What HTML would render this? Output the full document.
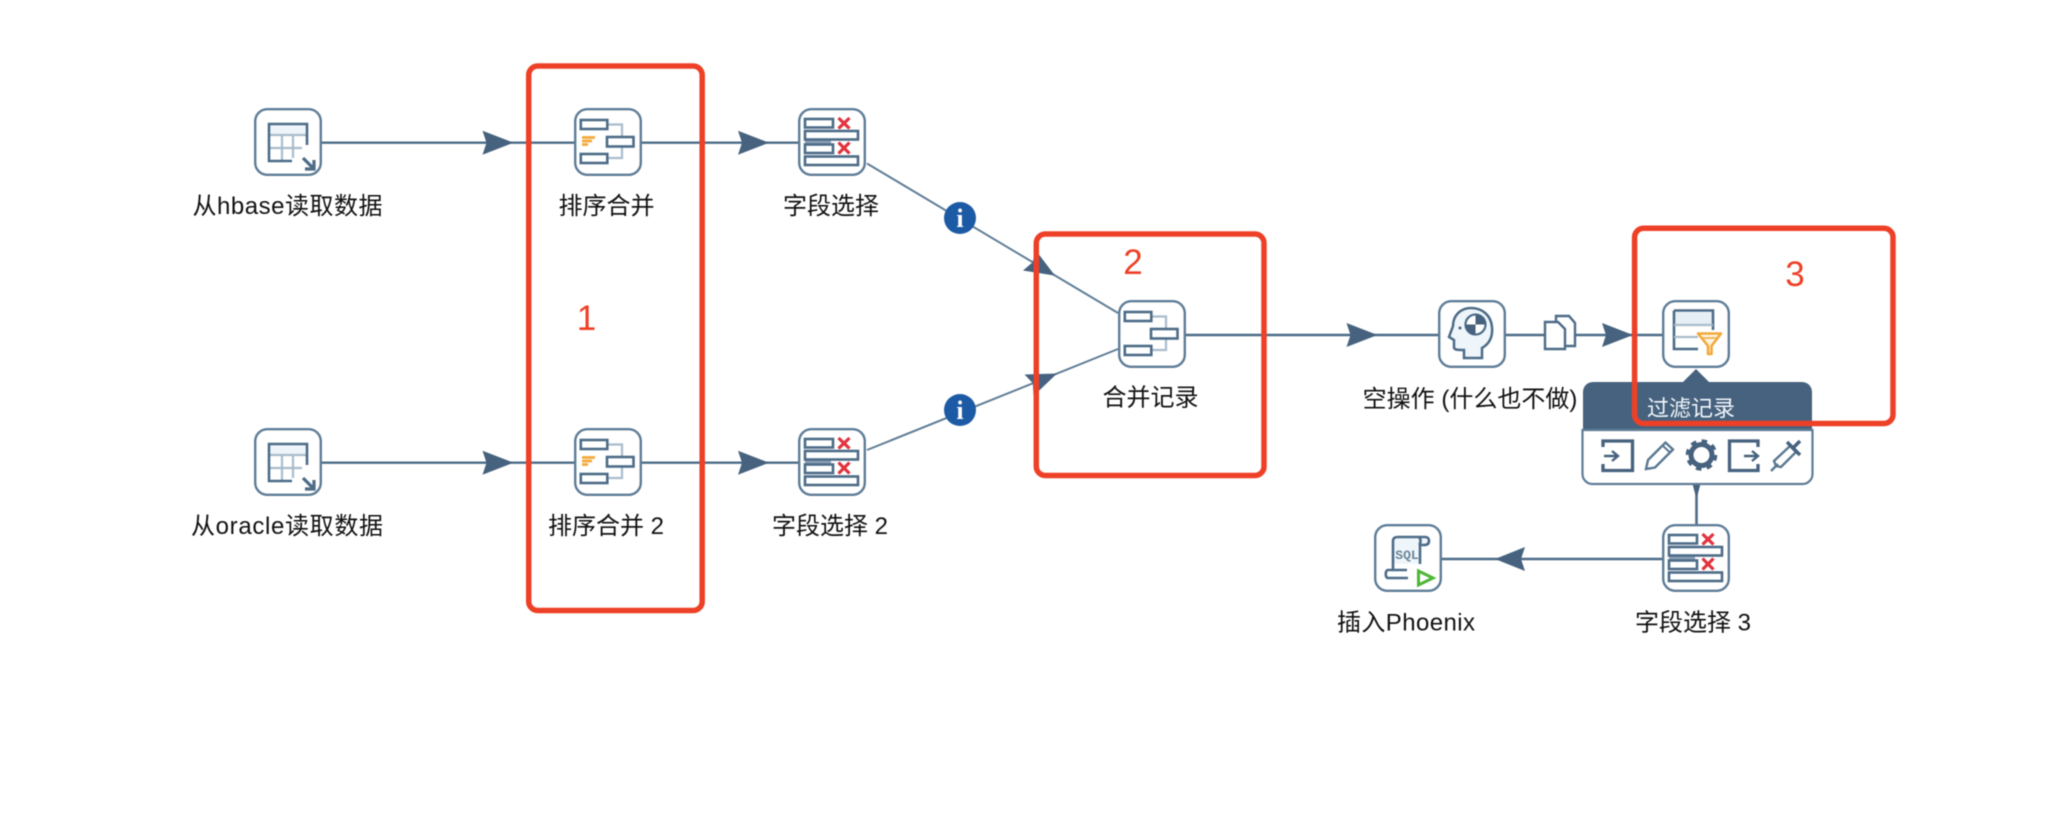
<!DOCTYPE html>
<html>
<head>
<meta charset="utf-8">
<style>
html,body{margin:0;padding:0;background:#fff;width:2056px;height:816px;overflow:hidden}
svg{display:block;filter:blur(.5px)}
.l{font-family:"Liberation Sans","Noto Sans CJK SC",sans-serif;font-size:24px;fill:#111;text-anchor:middle}
.n{font-family:"Liberation Sans",sans-serif;font-size:35px;fill:#ee4027;text-anchor:middle}
.c{stroke:#4d6c88;stroke-width:2.4;fill:none}
.g{stroke:#5f7d97;stroke-width:2;fill:none}
.a{fill:#46627e}
.r{fill:none;stroke:#ee4027;stroke-width:5.5}
.d{fill:none;stroke:#4d6c88;stroke-width:2.6}
.w{fill:#fff;stroke:#4d6c88;stroke-width:2.6}
.t{fill:none;stroke:#a9bccb;stroke-width:2.2}
.x{stroke:#e2333f;stroke-width:3.2;fill:none}
</style>
</head>
<body>
<svg width="2056" height="816" viewBox="0 0 2056 816" xmlns="http://www.w3.org/2000/svg">
<defs>
<rect id="box" x="1.2" y="1.2" width="65.6" height="65.6" rx="12" fill="#fff" stroke="#5f7d97" stroke-width="2.4"/>
<g id="table">
<use href="#box"/>
<rect x="15" y="16" width="38" height="10" fill="#edf5fa"/>
<path class="t" d="M15 27H53M15 40H48M28 27V52M39 27V50"/>
<path class="d" d="M53 37V16H15V53H38"/>
<path class="d" d="M49 50L60 61M60 52V61H51" style="stroke-width:3.2"/>
</g>
<g id="merge">
<use href="#box"/>
<path class="t" d="M33 16.5H48V50H33M46 33.5H48"/>
<rect class="w" x="6.8" y="12" width="26.5" height="9"/>
<rect class="w" x="33" y="29" width="26.5" height="9.5"/>
<rect class="w" x="6.8" y="46" width="26.5" height="9"/>
</g>
<g id="sort">
<use href="#merge"/>
<path stroke="#f3aa3c" stroke-width="2.8" fill="none" d="M8 29.5H21M8 33H18M8 36.5H14"/>
</g>
<g id="field">
<use href="#box"/>
<rect x="7" y="31" width="26" height="6" fill="#8ba1b4"/>
<rect class="w" x="7" y="11" width="28" height="8.5"/>
<rect class="w" x="7" y="23" width="53" height="8.5"/>
<rect class="w" x="7" y="36.500" width="28" height="8.500"/>
<rect class="w" x="7" y="48.500" width="53" height="8.500"/>
<path class="x" d="M40.500 10L51.500 20.500M51.500 10L40.500 20.500M40.500 34.500L51.500 45.500M51.500 34.500L40.500 45.500"/>
</g>
<path id="arrow" class="a" d="M0 -12L31 0L0 12L4 0Z"/>
</defs>

<rect width="2056" height="816" fill="#fff"/>

<!-- connectors -->
<path class="c" d="M322 142.700H574M641 142.700H798"/>
<path class="c" d="M322 462.700H574M641 462.700H798"/>
<path class="g" d="M867 163.500L1118 313"/>
<path class="g" d="M867 450L1118 349"/>
<path class="c" d="M1186 335H1438M1506 335H1662"/>
<path class="c" d="M1662 559H1441"/>
<path class="c" d="M1696.500 484V524" style="stroke-width:2.600"/>
<path class="a" d="M1692.500 484H1700.500L1697.300 496H1695.700Z"/>

<!-- arrowheads -->
<use href="#arrow" x="482.500" y="142.700"/>
<use href="#arrow" x="482.500" y="462.700"/>
<use href="#arrow" x="738" y="142.700"/>
<use href="#arrow" x="738" y="462.700"/>
<use href="#arrow" x="1346.500" y="335"/>
<use href="#arrow" x="1602" y="335"/>
<path class="a" d="M1525 547L1495 559L1525 571L1521 559Z"/>
<path class="a" d="M1055 275.600L1023 270.500L1032.700 262.200L1035.500 250Z"/>
<path class="a" d="M1057 373.500L1033.500 396L1032.900 383.200L1024.500 374.500Z"/>

<!-- info badges -->
<circle cx="960" cy="218" r="16" fill="#1c5aa5"/>
<text x="960" y="227" font-family="Liberation Serif,serif" font-weight="bold" font-size="26" fill="#fff" text-anchor="middle">i</text>
<circle cx="960" cy="410" r="16" fill="#1c5aa5"/>
<text x="960" y="419" font-family="Liberation Serif,serif" font-weight="bold" font-size="26" fill="#fff" text-anchor="middle">i</text>

<!-- nodes -->
<use href="#table" x="254" y="108"/>
<use href="#table" x="254" y="428"/>
<use href="#sort" x="574" y="108"/>
<use href="#sort" x="574" y="428"/>
<use href="#field" x="798" y="108"/>
<use href="#field" x="798" y="428"/>
<use href="#merge" x="1118" y="300"/>
<use href="#field" x="1662" y="524"/>

<!-- no-op (brain) -->
<g transform="translate(1438,300)">
<use href="#box"/>
<path d="M44 58V48C51 44 55 37 54 27C53 15 44 8 33 8C22 8 15 16 15 26L11 37L16 40V47C16 50 19 50 26 50V58Z" fill="#eff6fb" stroke="#4d6c88" stroke-width="2.500"/>
<circle cx="37.500" cy="24.500" r="10" fill="#fff" stroke="#4d6c88" stroke-width="2.200"/>
<path d="M37.500 14.500A10 10 0 0 1 47.500 24.500H37.500ZM37.500 24.500V34.500A10 10 0 0 1 27.500 24.500Z" fill="#46627e"/>
<circle cx="22" cy="28" r="1.500" fill="#46627e"/>
</g>

<!-- filter -->
<g transform="translate(1662,300)">
<use href="#box"/>
<rect x="12" y="12" width="39" height="13" fill="#e6eff5"/>
<path class="d" d="M12 10.500H51V30M12 10.500V49H36"/>
<path class="t" d="M12 25H51M12 37H36"/>
<path d="M36 33H59L48 46V56" fill="#fff" stroke="none"/>
<path d="M36 33.500H59L49.500 46V54H46V46Z" fill="#fdf3df" stroke="#f2a93b" stroke-width="2.600" stroke-linejoin="round"/>
<path d="M39 38H56" stroke="#f2a93b" stroke-width="1.500"/>
</g>

<!-- docs icon on connector -->
<g>
<path d="M1556 316H1569L1575 323V346H1556Z" fill="#fff" stroke="#4d6c88" stroke-width="2.400"/>
<path d="M1545 322H1558L1565 329V349H1545Z" fill="#fff" stroke="#4d6c88" stroke-width="2.400"/>
</g>

<!-- SQL -->
<g transform="translate(1374,524)">
<use href="#box"/>
<path d="M19 17C19 14 21 13 24 13H51C54 13 55 15 55 17C55 20 53 21 50 21H46V40H19Z" fill="#eff6fb" stroke="none"/>
<path class="d" d="M19 45V17C19 14 21 13 24 13H51C54 13 55 15 55 17C55 20 53 21 50 21H46V40M45 13C47 15 47 19 45 21M19 46H14C11 46 11 54 14 54H34M19 46H33"/>
<text x="33" y="35" font-family="Liberation Mono,monospace" font-size="13" font-weight="bold" fill="#6b8499" text-anchor="middle">SQL</text>
<path d="M44.500 47L59 54L44.500 61Z" fill="none" stroke="#4fb636" stroke-width="3"/>
</g>

<!-- tooltip -->
<path d="M1583 392a10 10 0 0 1 10-10h209a10 10 0 0 1 10 10v38h-229Z" fill="#46627e"/>
<path d="M1682 383L1696 369L1710 383Z" fill="#46627e"/>
<path d="M1582.500 430V474a10 10 0 0 0 10 10h210a10 10 0 0 0 10-10V430Z" fill="#fff" stroke="#5f7d97" stroke-width="2.200"/>
<text x="1691" y="416" font-family="Liberation Sans,Noto Sans CJK SC,sans-serif" font-size="22" fill="#f2f6fa" text-anchor="middle" textLength="88">过滤记录</text>
<g fill="none" stroke="#46627e" stroke-width="3">
<path d="M1603 447V441H1632.500V470.500H1603V464" style="stroke-width:3.300"/>
<path d="M1604 456H1617M1612 451L1618 456L1612 461" style="stroke-width:2.400"/>
<path d="M1646 469L1648 460L1665.500 442.500L1673 449.500L1655 467.500Z" style="stroke-width:2.400;stroke:#5a7892"/>
<path d="M1662.500 445.500L1670 452.500" style="stroke-width:2;stroke:#5a7892"/>
<circle cx="1701.500" cy="455" r="10.500" style="stroke-width:5"/>
<circle cx="1701.500" cy="455" r="13.800" stroke-dasharray="5.500 5.340" style="stroke-width:4"/>
<path d="M1758 447V441H1729.500V470.500H1758V464" style="stroke-width:3.300"/>
<path d="M1744 456H1757M1752 451L1758 456L1752 461" style="stroke-width:2.400"/>
<path d="M1771 471L1778 464M1776 466L1774 461L1790 446L1796 452L1781 467Z" style="stroke-width:2.400;stroke:#5a7892"/>
<path d="M1787 442L1800 455M1793 448L1800 441" style="stroke-width:3.400"/>
</g>

<!-- labels -->
<text class="l" x="287.500" y="214" textLength="190" lengthAdjust="spacing">从hbase读取数据</text>
<text class="l" x="606.500" y="214">排序合并</text>
<text class="l" x="831" y="214">字段选择</text>
<text class="l" x="287" y="534" textLength="192" lengthAdjust="spacing">从oracle读取数据</text>
<text class="l" x="606" y="534">排序合并 2</text>
<text class="l" x="830" y="534">字段选择 2</text>
<text class="l" x="1150.500" y="405.500">合并记录</text>
<text class="l" x="1470" y="407">空操作 (什么也不做)</text>
<text class="l" x="1406" y="630.500" textLength="138" lengthAdjust="spacing">插入Phoenix</text>
<text class="l" x="1693" y="630.500">字段选择 3</text>

<!-- annotations -->
<rect class="r" x="528.700" y="66" width="173.500" height="544.500" rx="9"/>
<rect class="r" x="1036.300" y="234" width="227.700" height="241.500" rx="9"/>
<rect class="r" x="1634.600" y="228.300" width="258.400" height="195.200" rx="9"/>
<text class="n" x="586.500" y="330">1</text>
<text class="n" x="1133" y="274">2</text>
<text class="n" x="1795" y="286">3</text>
</svg>
</body>
</html>
